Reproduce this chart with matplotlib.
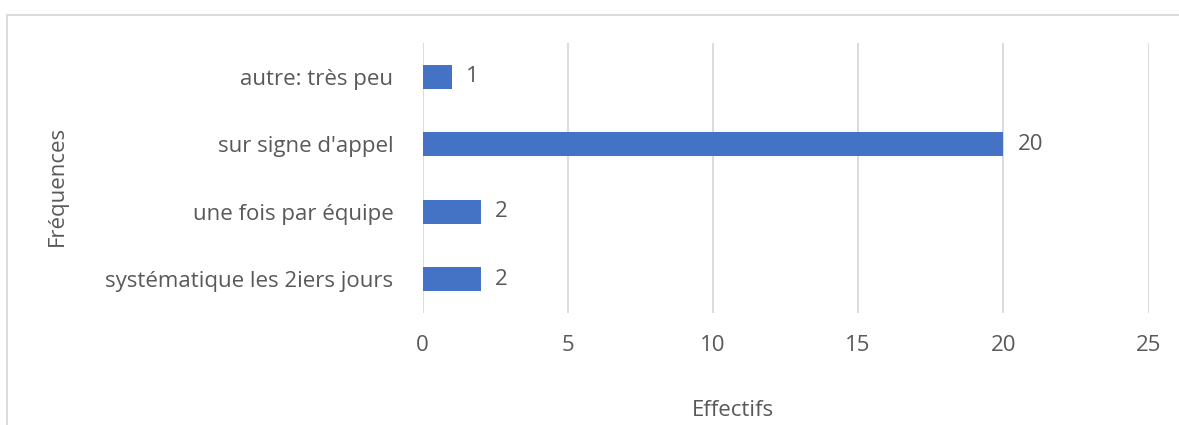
import matplotlib.pyplot as plt
from matplotlib.patches import Rectangle

categories = ["systématique les 2iers jours", "une fois par équipe",
              "sur signe d'appel", "autre: très peu"]
effectifs = [2, 2, 20, 1]

W, H = 1179, 425
txt = '#595959'
grid = '#d9d9d9'
bar_col = '#4472c4'
fs = 16

plt.rcParams['font.family'] = ['Open Sans', 'DejaVu Sans']

fig = plt.figure(figsize=(W / 100, H / 100), dpi=100)

# chart frame (light grey), cut off on right and bottom
fig.patches.append(Rectangle((7.5 / W, -0.2), 2, 1.2 - 14.5 / H,
                             transform=fig.transFigure, fill=False,
                             edgecolor=grid, linewidth=1.3))

ax = fig.add_axes([422.5 / W, 1 - 313 / H, (1148.5 - 422.5) / W, (313 - 43) / H])
y = range(len(categories))
ax.barh(y, effectifs, height=0.35, color=bar_col, zorder=3)

for yi, v in zip(y, effectifs):
    ax.annotate(str(v), (v, yi), xytext=(10.5, 0), textcoords='offset points',
                va='center', ha='left', fontsize=fs, color=txt)

ax.set_xlim(0, 25)
ax.set_ylim(-0.5, len(categories) - 0.5)
ax.set_xticks(range(0, 26, 5))
ax.set_yticks(list(y))
ax.set_yticklabels(categories)
ax.tick_params(axis='both', length=0, colors=txt, labelsize=fs)
ax.tick_params(axis='y', pad=21)
ax.tick_params(axis='x', pad=16)
ax.grid(axis='x', color=grid, linewidth=1.3, zorder=0)
for s in ax.spines.values():
    s.set_visible(False)

fig.text(733 / W, 1 - 410 / H, "Effectifs", ha='center', va='center',
         fontsize=fs, color=txt)
fig.text(57 / W, 1 - 186 / H, "Fréquences", ha='center', va='center',
         rotation=90, fontsize=fs, color=txt)

fig.savefig("out.png", dpi=100)
